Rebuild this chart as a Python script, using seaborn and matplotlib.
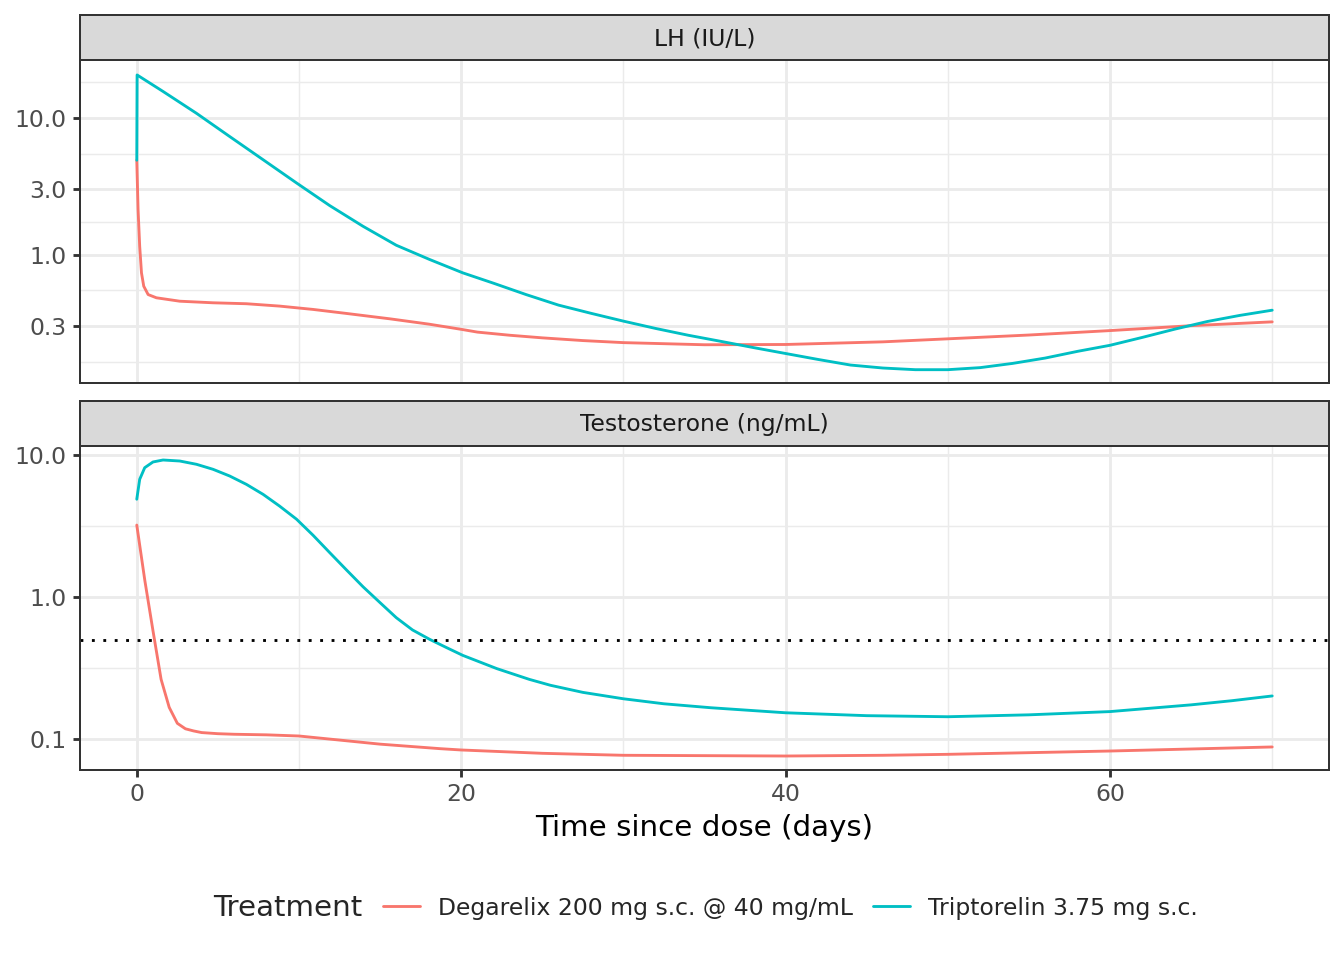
import numpy as np
import pandas as pd
import matplotlib
matplotlib.use("Agg")
import matplotlib.pyplot as plt
from matplotlib.lines import Line2D
from matplotlib.ticker import FixedLocator, NullFormatter, FuncFormatter
import seaborn as sns

# valores
treatments = ["Degarelix 200 mg s.c. @ 40 mg/mL", "Triptorelin 3.75 mg s.c."]
colors = ["#F8766D", "#00BFC4"]

lh_deg_days = [0, 0.08, 0.18, 0.29, 0.43, 0.7, 1.21, 2.65, 4.7, 6.76, 8.8, 10.87, 12.93,
               15.6, 18, 20, 21, 23, 25, 27.5, 30, 35, 40, 46, 50, 55, 60, 65, 70]
lh_deg_vals = [4.9, 2.13, 1.15, 0.735, 0.587, 0.51, 0.483, 0.456, 0.444, 0.437, 0.42, 0.397,
               0.371, 0.339, 0.31, 0.284, 0.271, 0.257, 0.246, 0.235, 0.227, 0.219, 0.22,
               0.23, 0.242, 0.258, 0.278, 0.302, 0.322]

lh_trip_days = [0, 0.02, 1.62, 3.68, 5.73, 7.79, 9.85, 11.9, 13.95, 16, 18.06, 20.1, 22,
                24, 26, 28, 30, 32, 34, 36, 38, 40, 42, 44, 46, 48, 50, 52, 54, 56, 58, 60,
                62, 64, 66, 68, 70]
lh_trip_vals = [4.9, 20.6, 15.6, 10.8, 7.3, 4.94, 3.34, 2.28, 1.61, 1.17, 0.92, 0.735,
                0.617, 0.51, 0.427, 0.372, 0.326, 0.288, 0.257, 0.232, 0.209, 0.189, 0.171,
                0.1556, 0.148, 0.1439, 0.1439, 0.149, 0.16, 0.175, 0.196, 0.217, 0.248,
                0.285, 0.324, 0.359, 0.392]

t_deg_days = [0, 0.5, 1, 1.5, 2, 2.5, 3, 3.5, 4, 5, 6, 8, 10, 15, 18.7, 20, 25, 30, 40,
              46, 50, 60, 70]
t_deg_vals = [3.21, 1.30, 0.578, 0.263, 0.167, 0.129, 0.118, 0.114, 0.111, 0.109, 0.108,
              0.107, 0.105, 0.092, 0.0855, 0.0837, 0.0793, 0.0768, 0.0759, 0.0768, 0.078,
              0.0823, 0.0879]

t_trip_days = [0, 0.18, 0.49, 1.0, 1.62, 2.65, 3.68, 4.7, 5.73, 6.76, 7.79, 8.8, 9.85,
               10.87, 11.9, 12.93, 13.95, 15, 16, 17, 18.06, 19.1, 20.1, 22.2, 24.2, 25.5,
               27.5, 30, 32.5, 35.4, 40, 45, 50, 55, 60, 65, 67.5, 70]
t_trip_vals = [4.88, 6.74, 8.14, 8.93, 9.22, 9.07, 8.6, 7.93, 7.11, 6.21, 5.28, 4.37, 3.53,
               2.72, 2.05, 1.55, 1.18, 0.912, 0.715, 0.586, 0.503, 0.44, 0.388, 0.313,
               0.263, 0.239, 0.213, 0.192, 0.177, 0.166, 0.153, 0.146, 0.1435, 0.148,
               0.156, 0.174, 0.186, 0.201]

t_threshold = 0.5

panels = ["LH (IU/L)", "Testosterone (ng/mL)"]
lh_ticks = [0.3, 1.0, 3.0, 10.0]
t_ticks = [0.1, 1.0, 10.0]
x_ticks = [0, 20, 40, 60]


def make_df(days_list, vals_list):
    partes = []
    for trt, d, v in zip(treatments, days_list, vals_list):
        partes.append(pd.DataFrame({"time": d, "value": v, "Treatment": trt}))
    return pd.concat(partes, ignore_index=True)


df_lh = make_df([lh_deg_days, lh_trip_days], [lh_deg_vals, lh_trip_vals])
df_t = make_df([t_deg_days, t_trip_days], [t_deg_vals, t_trip_vals])

sns.set_theme(style="white")
plt.rcParams["font.family"] = ["DejaVu Sans"]

fig = plt.figure(figsize=(7, 5), dpi=192)
L, W = 80 / 1344, 1249 / 1344
ax1 = fig.add_axes([L, 577 / 960, W, 323 / 960])
s1 = fig.add_axes([L, 900 / 960, W, 45 / 960])
ax2 = fig.add_axes([L, 190 / 960, W, 324 / 960])
s2 = fig.add_axes([L, 514 / 960, W, 45 / 960])

palette = dict(zip(treatments, colors))
lw = 1.07
blw = 0.75
grey20 = "#333333"


def minor_breaks(ticks):
    b = list(np.log10(ticks))
    b = [b[0] - (b[1] - b[0])] + b + [b[-1] + (b[-1] - b[-2])]
    return [10 ** ((b[i] + b[i + 1]) / 2) for i in range(len(b) - 1)]


for ax, df, ticks, ylim in [(ax1, df_lh, lh_ticks, (0.115, 26.5)),
                            (ax2, df_t, t_ticks, (0.0605, 11.57))]:
    sns.lineplot(data=df, x="time", y="value", hue="Treatment", palette=palette,
                 hue_order=treatments, estimator=None, linewidth=lw, legend=False, ax=ax)
    ax.set_yscale("log")
    ax.set_xlim(-3.5, 73.5)
    ax.set_ylim(*ylim)
    ax.yaxis.set_major_locator(FixedLocator(ticks))
    ax.yaxis.set_major_formatter(FuncFormatter(lambda v, p: f"{v:.1f}"))
    ax.yaxis.set_minor_locator(FixedLocator(minor_breaks(ticks)))
    ax.yaxis.set_minor_formatter(NullFormatter())
    ax.xaxis.set_major_locator(FixedLocator(x_ticks))
    ax.xaxis.set_minor_locator(FixedLocator([10, 30, 50, 70]))
    ax.set_axisbelow(True)
    ax.grid(which="major", color="#EBEBEB", linewidth=lw)
    ax.grid(which="minor", color="#EBEBEB", linewidth=lw / 2)
    ax.tick_params(which="major", length=2.75, width=lw, color=grey20,
                   labelsize=8.8, labelcolor="#4D4D4D", pad=2.2, left=True, bottom=True)
    ax.tick_params(which="minor", length=0)
    for sp in ax.spines.values():
        sp.set_color(grey20)
        sp.set_linewidth(blw)
    ax.set_ylabel("")
    ax.set_xlabel("")

ax1.tick_params(axis="x", labelbottom=False, length=0)
ax2.axhline(t_threshold, color="black", linestyle=(0, (1, 3)), linewidth=lw)
ax2.set_xlabel("Time since dose (days)", fontsize=11, color="black", labelpad=2.75)

for s, titulo in [(s1, panels[0]), (s2, panels[1])]:
    s.set_facecolor("#D9D9D9")
    s.set_xticks([])
    s.set_yticks([])
    for sp in s.spines.values():
        sp.set_color(grey20)
        sp.set_linewidth(blw)
    s.text(0.5, 0.47, titulo, transform=s.transAxes, ha="center", va="center",
           fontsize=8.8, color="#1A1A1A")

# legenda embaixo
handles = [Line2D([], [], color=c, linewidth=lw) for c in colors]
fig.text(213 / 1344, 1 - 908 / 960, "Treatment", fontsize=11, va="center", ha="left")
fig.legend(handles, treatments, loc="center left", bbox_to_anchor=(383 / 1344, 1 - 908 / 960),
           ncol=2, frameon=False, fontsize=8.8, handlelength=1.58, handletextpad=0.77,
           columnspacing=0.85, borderpad=0, borderaxespad=0)

fig.savefig("out.png", dpi=192, facecolor="white")
